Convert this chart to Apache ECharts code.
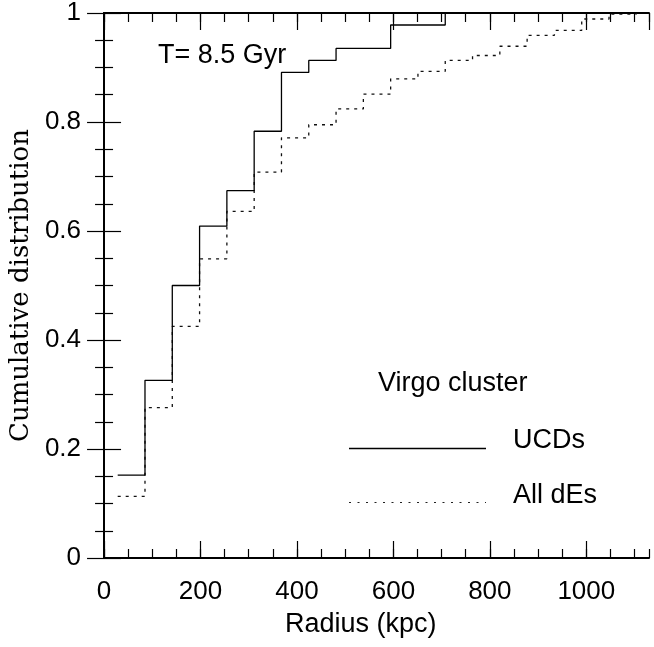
<!DOCTYPE html>
<html>
<head>
<meta charset="utf-8">
<script src="https://cdn.jsdelivr.net/npm/echarts@6/dist/echarts.min.js"></script>
<style>
  html, body { margin: 0; padding: 0; background: #fff; }
  #main { width: 654px; height: 647px; }
</style>
</head>
<body>
<div id="main"></div>
<script>
// bin edges (kpc) and cumulative fractions
var binEdges = [28.3, 84.9, 141.5, 198.1, 254.7, 311.3, 367.9, 424.5, 481.1, 537.7,
                594.3, 650.9, 707.5, 764.1, 820.7, 877.3, 933.9, 990.5, 1047.1, 1103.7];
var ucdValues = [0.152, 0.326, 0.5, 0.609, 0.674, 0.783, 0.891, 0.913, 0.935, 0.935,
                 0.978, 0.978, 1, 1, 1, 1, 1, 1, 1];
var desValues = [0.113, 0.276, 0.425, 0.549, 0.636, 0.708, 0.771, 0.795, 0.824, 0.851,
                 0.879, 0.893, 0.913, 0.922, 0.939, 0.959, 0.968, 0.989, 0.998];
var xTicks = [0, 200, 400, 600, 800, 1000];
var yTicks = [0, 0.2, 0.4, 0.6, 0.8, 1];

function stepData(vals) {
  var d = [];
  for (var i = 0; i < vals.length; i++) d.push([binEdges[i], vals[i]]);
  d.push([binEdges[binEdges.length - 1], 1]);
  return d;
}

var myChart = echarts.init(document.getElementById('main'));

var black = '#000';
var sans = 'Liberation Sans, Arial, sans-serif';

function xAx(pos, major, labels) {
  return {
    type: 'value', position: pos, min: 0, max: 1130,
    interval: major ? 200 : 50,
    axisLine: { show: major, lineStyle: { color: black, width: 2 } },
    axisTick: { show: true, inside: true, length: major ? 17 : 9, lineStyle: { color: black, width: 1.2 } },
    axisLabel: {
      show: labels, color: black, fontSize: 26, fontFamily: sans, margin: 21,
      showMaxLabel: false,
      formatter: function (v) { return xTicks.indexOf(v) >= 0 ? String(v) : ''; }
    },
    splitLine: { show: false }
  };
}
function yAx(pos, labels) {
  return {
    type: 'value', position: pos, min: 0, max: 1, interval: 0.2,
    name: labels ? 'Cumulative distribution' : '',
    nameLocation: 'middle', nameGap: 70,
    nameTextStyle: { color: black, fontSize: 26, fontFamily: 'DejaVu Serif, serif' },
    axisLine: { show: true, lineStyle: { color: black, width: 2 } },
    axisTick: { show: true, inside: true, length: 17, lineStyle: { color: black, width: 1.2 } },
    minorTick: { show: true, splitNumber: 4, length: 9, lineStyle: { color: black, width: 1.2 } },
    axisLabel: {
      show: labels, color: black, fontSize: 26, fontFamily: sans, margin: 23,
      padding: [10, 0, 0, 0],
      formatter: function (v) { var r = Math.round(v * 10) / 10; return yTicks.indexOf(r) >= 0 ? String(r) : ''; }
    },
    splitLine: { show: false }
  };
}

var option = {
  animation: false,
  backgroundColor: '#fff',
  grid: { left: 103, right: 5, top: 11, bottom: 89 },
  xAxis: [xAx('bottom', true, true), xAx('bottom', false, false), xAx('top', true, false), xAx('top', false, false)],
  yAxis: [yAx('left', true), yAx('right', false)],
  series: [
    {
      name: 'All dEs', type: 'line', step: 'end', showSymbol: false,
      xAxisIndex: 0, yAxisIndex: 0,
      data: stepData(desValues),
      lineStyle: { color: '#111', width: 1.3, type: [3, 5] }
    },
    {
      name: 'UCDs', type: 'line', step: 'end', showSymbol: false,
      xAxisIndex: 0, yAxisIndex: 0,
      data: stepData(ucdValues),
      lineStyle: { color: black, width: 1.3 }
    }
  ],
  graphic: [
    { type: 'text', left: 158, top: 42, style: { text: 'T= 8.5 Gyr', font: '27px ' + sans, fill: black } },
    { type: 'text', left: 378, top: 370, style: { text: 'Virgo cluster', font: '27px ' + sans, fill: black } },
    { type: 'text', left: 513, top: 427, style: { text: 'UCDs', font: '27px ' + sans, fill: black } },
    { type: 'text', left: 513, top: 482, style: { text: 'All dEs', font: '27px ' + sans, fill: black } },
    { type: 'line', shape: { x1: 349, y1: 448.5, x2: 486, y2: 448.5 }, style: { stroke: black, lineWidth: 1.3 } },
    { type: 'line', shape: { x1: 349, y1: 502.5, x2: 486, y2: 502.5 }, style: { stroke: '#222', lineWidth: 1.2, lineDash: [2, 6.5] } },
    { type: 'text', left: 285, top: 611, style: { text: 'Radius (kpc)', font: '27px ' + sans, fill: black } }
  ]
};

myChart.setOption(option);
</script>
</body>
</html>
